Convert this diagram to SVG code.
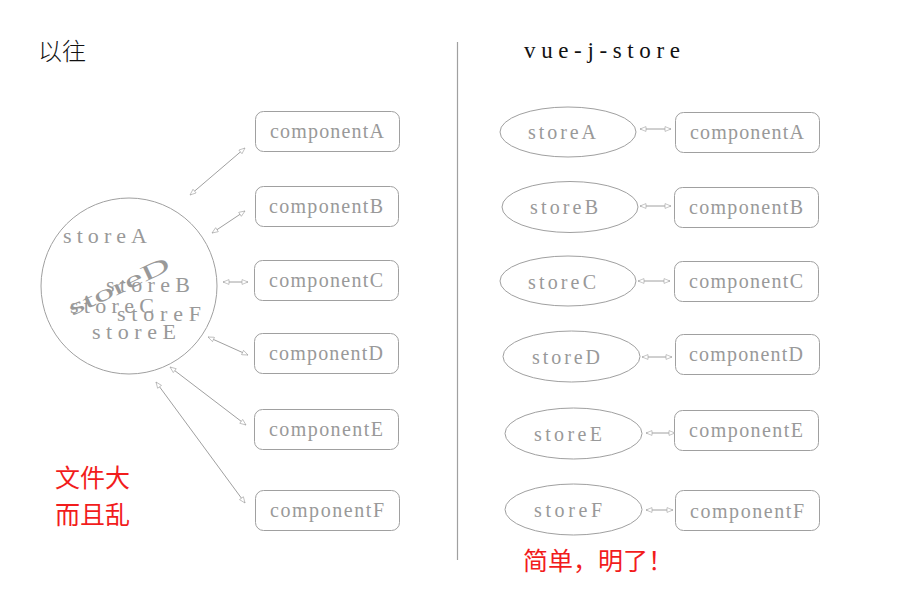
<svg xmlns="http://www.w3.org/2000/svg" width="900" height="600" viewBox="0 0 900 600">
<style>
.box{fill:#fff;stroke:#a0a0a0;stroke-width:1}
.lbl{font-family:"Liberation Serif","DejaVu Serif",serif;font-size:20px;fill:#999}
.st{font-family:"Liberation Serif","DejaVu Serif",serif;font-size:22px;fill:#999}
.cn{stroke:#a0a0a0;stroke-width:1;fill:none;marker-start:url(#ah);marker-end:url(#ah)}
.red{font-family:"Noto Sans CJK SC",sans-serif;font-size:25px;fill:#f21c1c}
.ttl{font-family:"Noto Sans CJK SC",sans-serif;font-size:24px;fill:#111;font-weight:300}
</style>
<defs>
<marker id="ah" viewBox="0 0 10 10" refX="10" refY="5" markerWidth="9" markerHeight="6" markerUnits="userSpaceOnUse" orient="auto-start-reverse">
<path d="M0,1 L10,5 L0,9 Z" fill="#fff" stroke="#a0a0a0" stroke-width="1"/>
</marker>
</defs>
<rect width="900" height="600" fill="#fff"/>
<line x1="457.5" y1="42" x2="457.5" y2="560" stroke="#a0a0a0" stroke-width="1.2"/>
<text class="ttl" x="38" y="60">以往</text>
<text x="524" y="58" font-family="Liberation Serif,serif" font-size="23" fill="#111" textLength="156">vue-j-store</text>

<g id="bigstore">
<circle cx="129" cy="286" r="88" class="box"/>
<text class="st" x="63" y="243" textLength="84">storeA</text>
<text class="st" x="106" y="292" textLength="84">storeB</text>
<text class="st" x="70" y="313" textLength="84">storeC</text>
<text class="st" x="117" y="321" textLength="84">storeF</text>
<text class="st" x="92" y="339" textLength="84">storeE</text>
<text class="st" font-size="30" x="0" y="0" transform="translate(72,316) rotate(-25)" textLength="110" lengthAdjust="spacingAndGlyphs">storeD</text>
</g>

<g id="L-componentA"><rect class="box" x="255.5" y="111.5" width="144" height="40" rx="8"/><text class="lbl" x="270" y="138" textLength="114">componentA</text></g>
<g id="L-componentB"><rect class="box" x="255.5" y="186.5" width="143" height="40" rx="8"/><text class="lbl" x="269" y="213" textLength="114">componentB</text></g>
<g id="L-componentC"><rect class="box" x="254.5" y="260.5" width="144" height="40" rx="8"/><text class="lbl" x="269" y="287" textLength="114">componentC</text></g>
<g id="L-componentD"><rect class="box" x="254.5" y="333.5" width="144" height="40" rx="8"/><text class="lbl" x="269" y="360" textLength="114">componentD</text></g>
<g id="L-componentE"><rect class="box" x="254.5" y="409.5" width="144" height="40" rx="8"/><text class="lbl" x="269" y="436" textLength="114">componentE</text></g>
<g id="L-componentF"><rect class="box" x="255.5" y="490.5" width="144" height="40" rx="8"/><text class="lbl" x="270" y="517" textLength="114">componentF</text></g>

<g id="storeA"><ellipse class="box" cx="568" cy="132" rx="68" ry="25"/><text class="lbl" x="528" y="139" textLength="68">storeA</text></g>
<g id="storeB"><ellipse class="box" cx="570" cy="207" rx="68" ry="25.5"/><text class="lbl" x="530" y="214" textLength="68">storeB</text></g>
<g id="storeC"><ellipse class="box" cx="568" cy="281" rx="68" ry="25"/><text class="lbl" x="528" y="289" textLength="68">storeC</text></g>
<g id="storeD"><ellipse class="box" cx="571.5" cy="356.5" rx="68.5" ry="25.5"/><text class="lbl" x="532" y="364" textLength="68">storeD</text></g>
<g id="storeE"><ellipse class="box" cx="573.5" cy="433.5" rx="68.5" ry="25.5"/><text class="lbl" x="534" y="441" textLength="68">storeE</text></g>
<g id="storeF"><ellipse class="box" cx="573.5" cy="509.5" rx="68.5" ry="25.5"/><text class="lbl" x="534" y="517" textLength="68">storeF</text></g>

<g id="R-componentA"><rect class="box" x="675.5" y="112.5" width="144" height="40" rx="8"/><text class="lbl" x="690" y="139" textLength="114">componentA</text></g>
<g id="R-componentB"><rect class="box" x="674.5" y="187.5" width="144" height="40" rx="8"/><text class="lbl" x="689" y="214" textLength="114">componentB</text></g>
<g id="R-componentC"><rect class="box" x="674.5" y="261.5" width="144" height="40" rx="8"/><text class="lbl" x="689" y="288" textLength="114">componentC</text></g>
<g id="R-componentD"><rect class="box" x="675.5" y="334.5" width="144" height="40" rx="8"/><text class="lbl" x="689" y="361" textLength="114">componentD</text></g>
<g id="R-componentE"><rect class="box" x="674.5" y="410.5" width="144" height="40" rx="8"/><text class="lbl" x="689" y="437" textLength="114">componentE</text></g>
<g id="R-componentF"><rect class="box" x="675.5" y="490.5" width="144" height="40" rx="8"/><text class="lbl" x="690" y="518" textLength="114">componentF</text></g>

<g id="connectors">
<line class="cn" x1="190" y1="195" x2="245" y2="148"/>
<line class="cn" x1="212" y1="233" x2="245" y2="211"/>
<line class="cn" x1="223" y1="282" x2="248" y2="282"/>
<line class="cn" x1="208" y1="337" x2="248" y2="355"/>
<line class="cn" x1="170" y1="367" x2="246" y2="425"/>
<line class="cn" x1="156" y1="382" x2="245" y2="503"/>
<line class="cn" x1="640" y1="129" x2="671" y2="129"/>
<line class="cn" x1="640" y1="206" x2="671" y2="206"/>
<line class="cn" x1="638" y1="281" x2="670" y2="281"/>
<line class="cn" x1="642" y1="357" x2="672" y2="357"/>
<line class="cn" x1="646" y1="433" x2="675" y2="433"/>
<line class="cn" x1="646" y1="510" x2="673" y2="510"/>
</g>

<text class="red" x="55" y="487">文件大</text>
<text class="red" x="55" y="524">而且乱</text>
<text class="red" x="523" y="570" font-size="24">简单，明了！</text>
</svg>
